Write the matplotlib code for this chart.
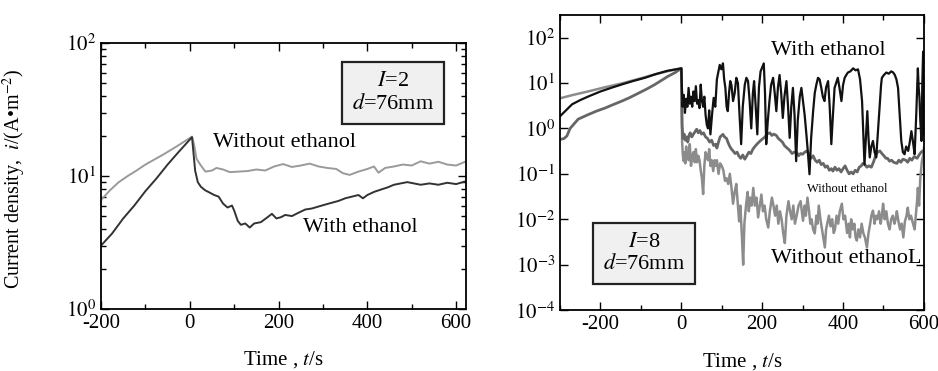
import matplotlib.pyplot as plt
from matplotlib.ticker import FixedLocator, MultipleLocator, LogLocator, NullFormatter

plt.rcParams['font.family'] = ['Liberation Serif', 'DejaVu Serif']
plt.rcParams['mathtext.fontset'] = 'stix'
plt.rcParams['axes.unicode_minus'] = False

# ---- left panel: I=2, d=76mm ----
t_wo_2 = [-200, -180, -160, -140, -120, -100, -80, -60, -40, -20, 5, 10, 15, 25, 35, 50, 60, 75, 90,
          110, 130, 150, 170, 190, 210, 230, 250, 270, 290, 310, 330, 345, 360, 380, 400, 415, 425,
          440, 460, 480, 500, 520, 540, 560, 580, 600, 620]
i_wo_2 = [6.6, 7.8, 9.0, 10.0, 11.0, 12.2, 13.3, 14.5, 15.9, 17.5, 19.8, 17.0, 13.5, 12.0, 10.8, 11.0,
          11.5, 11.2, 10.7, 10.8, 10.9, 11.2, 11.0, 11.8, 12.3, 11.7, 12.0, 12.4, 11.8, 11.5, 11.3,
          10.5, 10.2, 10.8, 11.3, 11.8, 10.6, 11.5, 11.8, 12.2, 12.0, 12.9, 12.4, 12.8, 12.2, 12.0, 12.8]

t_w_2 = [-200, -175, -150, -125, -100, -75, -50, -25, 5, 12, 18, 25, 35, 45, 55, 65, 75, 85, 95, 100,
         108, 115, 125, 135, 145, 160, 175, 185, 195, 205, 215, 230, 245, 260, 275, 290, 305, 320,
         335, 350, 365, 380, 390, 400, 415, 430, 445, 460, 475, 490, 505, 520, 540, 560, 580, 600, 620]
i_w_2 = [3.0, 3.7, 4.8, 6.0, 7.7, 9.6, 12.2, 15.2, 19.6, 11.0, 9.0, 8.3, 7.8, 7.5, 7.2, 7.0, 6.2, 5.8,
         6.0, 5.5, 4.6, 4.3, 4.4, 4.1, 4.4, 4.5, 4.9, 5.2, 4.8, 4.9, 5.1, 5.0, 5.3, 5.6, 5.7, 5.9, 6.1,
         6.3, 6.5, 6.8, 7.0, 7.2, 6.8, 7.2, 7.6, 7.9, 8.2, 8.6, 8.8, 9.0, 8.8, 8.6, 8.8, 8.6, 8.9, 8.7, 9.1]

# ---- right panel: I=8, d=76mm ----
t_w_8 = [-300, -285, -270, -250, -231, -200, -170, -147, -120, -90, -65, -35,
         0, 3, 6, 9, 12, 15, 18, 21, 24, 27, 30, 33, 36, 39, 42, 45, 48, 51, 54, 57, 60, 63, 66, 69,
         72, 76, 80, 84, 88, 92, 95, 99, 103, 106, 109, 112, 115, 118, 121, 124, 128, 132, 136, 140,
         144, 148, 152, 157, 161, 165, 169, 173, 177, 180, 184, 188, 192, 196, 200, 204, 207, 210,
         214, 218, 222, 227, 231, 235, 239, 243, 247, 251, 255, 260, 264, 268, 272, 276, 280, 284,
         288, 293, 297, 301, 305, 309, 313, 317, 321, 326, 330, 334, 338, 342, 346, 350, 354, 358,
         363, 367, 371, 375, 379, 383, 387, 391, 396, 400, 404, 408, 412, 418, 425, 431, 437, 442,
         447, 450, 453, 457, 460, 463, 466, 470, 474, 478, 482, 486, 491, 494, 496, 501, 507, 513,
         519, 524, 528, 532, 536, 540, 544, 548, 552, 556, 561, 565, 569, 573, 577, 581, 585, 587,
         589, 591, 594, 596, 598, 599, 600]
i_w_8 = [1.85, 2.5, 3.4, 4.2, 5.0, 6.5, 8.0, 9.3, 11, 13, 15.5, 18.5,
         21, 3.0, 5.5, 2.2, 4.5, 3.0, 7.8, 3.5, 5.0, 3.0, 6.5, 4.0, 8.5, 3.5, 4.2, 2.8, 9.2, 4.0, 3.0,
         5.0, 2.0, 1.2, 1.0, 2.5, 0.74, 2.0, 4.7, 3.0, 12, 18, 25, 20, 27, 12, 7.8, 3.0, 2.4, 6, 11,
         9, 4.0, 6, 13, 10, 2.0, 0.45, 3, 9.2, 13, 11, 4, 1.0, 6, 11, 3, 0.74, 8, 18, 22, 27, 6, 0.45,
         1.5, 4.0, 9, 13, 6, 2.4, 8, 15, 6, 1.7, 5, 11, 3, 0.62, 3, 7.8, 2, 0.19, 1.5, 5, 7.8, 4, 2.0,
         0.8, 0.3, 0.098, 0.6, 2.4, 6, 9.2, 13, 12, 8, 5, 4.0, 8, 11, 3, 0.45, 2, 7.8, 10, 13, 8, 4.0,
         9, 13, 15, 17, 18, 21, 19, 20, 12, 4.0, 0.8, 0.16, 0.8, 2.4, 0.6, 0.23, 0.4, 0.53, 0.3, 0.23,
         0.8, 4.0, 9, 13, 15, 17, 16, 18, 17, 15, 12, 7.8, 2, 0.53, 0.3, 0.27, 0.4, 0.32, 0.5, 0.87,
         0.5, 0.27, 2, 21, 8, 4.7, 1.5, 0.53, 10, 49, 5, 0.74]

t_wo_8a = [-300, -290, -283, -275, -255, -231, -210, -189, -170, -147, -127, -107, -85, -65, -45,
           -33, -15, 0, 2, 4, 7, 10, 13, 16, 19, 22, 26, 30, 34, 38, 42, 46, 50, 55, 60, 65, 70, 75,
           80, 85, 88, 92, 96, 100, 103, 107, 112, 116, 120, 124, 128, 133, 138, 142, 147, 152, 157,
           162, 167, 172, 177, 182, 187, 192, 197, 202, 207, 212, 219, 224, 229, 235, 240, 245, 250,
           255, 260, 265, 269, 274, 279, 285, 290, 295, 300, 305, 311, 316, 321, 326, 331, 336, 341,
           346, 351, 356, 361, 366, 371, 375, 380, 385, 390, 395, 400, 405, 410, 415, 420, 425, 430,
           435, 440, 445, 449, 454, 459, 464, 470, 475, 480, 485, 491, 496, 501, 506, 510, 515, 520,
           525, 533, 538, 543, 548, 555, 560, 565, 570, 576, 583, 588, 593, 597, 600]
i_wo_8a = [0.57, 0.6, 0.68, 1.0, 1.6, 2.0, 2.4, 2.8, 3.3, 4.0, 4.8, 5.9, 7.4, 9.3, 12, 14, 17,
           21, 1.2, 0.6, 0.75, 0.55, 0.65, 0.5, 0.7, 0.8, 0.65, 0.75, 0.85, 0.96, 0.8, 0.9, 0.75, 0.8,
           0.65, 0.6, 0.5, 0.55, 0.42, 0.45, 0.37, 0.5, 0.65, 0.7, 0.74, 0.65, 0.6, 0.48, 0.4, 0.35,
           0.32, 0.28, 0.3, 0.25, 0.22, 0.26, 0.21, 0.25, 0.3, 0.28, 0.35, 0.4, 0.45, 0.5, 0.55, 0.6,
           0.65, 0.75, 0.8, 0.7, 0.75, 0.7, 0.6, 0.55, 0.5, 0.42, 0.38, 0.35, 0.32, 0.28, 0.3, 0.3,
           0.25, 0.28, 0.27, 0.3, 0.32, 0.26, 0.22, 0.25, 0.2, 0.18, 0.2, 0.16, 0.17, 0.14, 0.15, 0.12,
           0.13, 0.115, 0.14, 0.12, 0.13, 0.11, 0.13, 0.15, 0.12, 0.1, 0.11, 0.1, 0.12, 0.11, 0.14,
           0.15, 0.17, 0.16, 0.14, 0.15, 0.14, 0.18, 0.24, 0.3, 0.32, 0.28, 0.25, 0.22, 0.22, 0.19,
           0.2, 0.18, 0.17, 0.2, 0.18, 0.21, 0.2, 0.18, 0.22, 0.2, 0.24, 0.22, 0.26, 0.3, 0.32, 0.3]

t_wo_8b = [-300, -270, -231, -190, -147, -110, -65, -30,
           0, 2, 4, 6, 8, 10, 12, 14, 16, 18, 21, 24, 27, 30, 33, 36, 39, 42, 45, 48, 51, 54, 57, 60,
           63, 66, 69, 72, 75, 79, 82, 85, 88, 92, 96, 100, 104, 108, 112, 116, 120, 124, 128, 132,
           136, 140, 143, 146, 150, 153, 156, 160, 164, 167, 170, 174, 178, 182, 186, 190, 194, 198,
           202, 206, 210, 215, 219, 224, 228, 232, 236, 240, 244, 248, 252, 256, 260, 265, 269, 273,
           277, 281, 286, 290, 295, 298, 301, 305, 308, 312, 316, 319, 322, 326, 330, 334, 337, 340,
           344, 348, 351, 355, 358, 362, 365, 369, 373, 377, 380, 384, 388, 392, 397, 401, 405, 410,
           414, 417, 420, 424, 428, 431, 434, 438, 442, 446, 450, 454, 459, 463, 467, 470, 474, 478,
           481, 485, 489, 493, 496, 499, 503, 507, 511, 515, 519, 523, 527, 530, 533, 537, 541, 545,
           549, 553, 557, 560, 564, 568, 573, 577, 580, 583, 585, 588, 591, 595, 598, 600]
i_wo_8b = [4.6, 5.4, 6.5, 8.0, 9.8, 12, 15.5, 18.5,
           21, 0.5, 0.25, 0.19, 0.3, 0.17, 0.4, 0.22, 0.3, 0.2, 0.45, 0.15, 0.25, 0.3, 0.18, 0.35,
           0.18, 0.25, 0.2, 0.12, 0.08, 0.036, 0.15, 0.3, 0.25, 0.2, 0.35, 0.15, 0.2, 0.115, 0.2, 0.15,
           0.2, 0.1, 0.17, 0.15, 0.12, 0.07, 0.08, 0.06, 0.1, 0.05, 0.022, 0.04, 0.06, 0.02, 0.009,
           0.02, 0.004, 0.001, 0.008, 0.02, 0.04, 0.015, 0.03, 0.02, 0.049, 0.02, 0.03, 0.011, 0.02,
           0.035, 0.015, 0.02, 0.01, 0.0066, 0.015, 0.03, 0.02, 0.012, 0.02, 0.008, 0.015, 0.01, 0.005,
           0.003, 0.012, 0.025, 0.015, 0.01, 0.02, 0.008, 0.013, 0.02, 0.025, 0.015, 0.0093, 0.02,
           0.012, 0.03, 0.015, 0.008, 0.01, 0.006, 0.0049, 0.012, 0.008, 0.02, 0.01, 0.006, 0.004,
           0.0024, 0.006, 0.009, 0.012, 0.007, 0.01, 0.005, 0.006, 0.012, 0.008, 0.015, 0.022, 0.01,
           0.012, 0.005, 0.008, 0.004, 0.01, 0.006, 0.008, 0.004, 0.0034, 0.006, 0.004, 0.008, 0.005,
           0.004, 0.0024, 0.005, 0.008, 0.012, 0.0155, 0.008, 0.012, 0.01, 0.015, 0.008, 0.012, 0.022,
           0.01, 0.015, 0.008, 0.006, 0.01, 0.012, 0.008, 0.01, 0.015, 0.009, 0.006, 0.008, 0.004,
           0.009, 0.012, 0.018, 0.01, 0.012, 0.008, 0.006, 0.012, 0.025, 0.049, 0.02, 0.08, 0.19,
           0.25, 0.37]

y_ticks_8 = [1e-4, 1e-3, 1e-2, 1e-1, 1e0, 1e1, 1e2]
y_labels_8 = ['$10^{-4}$', '$10^{-3}$', '$10^{-2}$', '$10^{-1}$', '$10^{0}$', '$10^{1}$', '$10^{2}$']

fig = plt.figure(figsize=(9.38, 3.71), dpi=100)
ax1 = fig.add_axes([0.1077, 0.167, 0.389, 0.717])
ax2 = fig.add_axes([0.597, 0.164, 0.388, 0.796])

box = dict(boxstyle='square,pad=0.45', fc='#f0f0f0', ec='#222222', lw=1.6)

# left
ax1.plot(t_wo_2, i_wo_2, color='#9a9a9a', lw=1.4)
ax1.plot(t_w_2, i_w_2, color='#333333', lw=1.4)
ax1.set_yscale('log')
ax1.set_xlim(-200, 622)
ax1.set_ylim(1, 100)
ax1.xaxis.set_major_locator(MultipleLocator(200))
ax1.xaxis.set_minor_locator(MultipleLocator(100))
ax1.yaxis.set_major_locator(FixedLocator([1, 10, 100]))
ax1.yaxis.set_minor_locator(LogLocator(base=10, subs=range(2, 10)))
ax1.yaxis.set_minor_formatter(NullFormatter())
ax1.set_yticklabels(['$10^{0}$', '$10^{1}$', '$10^{2}$'])
ax1.set_ylabel('Current density,  $i$/(A•m$^{-2}$)', fontsize=14.5)
ax1.yaxis.set_label_coords(-0.2, 0.49)
ax1.set_xlabel('Time , $t$/s', fontsize=15, labelpad=12)
ax1.text(0.307, 0.625, 'Without ethanol', transform=ax1.transAxes, fontsize=16, va='center')
ax1.text(0.553, 0.308, 'With ethanol', transform=ax1.transAxes, fontsize=16, va='center')
ax1.text(0.80, 0.812, '$I$=2\n$d$=76mm', transform=ax1.transAxes, fontsize=16,
         ha='center', va='center', linespacing=1.15, bbox=box)

# right
ax2.plot(t_wo_8b, i_wo_8b, color='#8c8c8c', lw=1.8)
ax2.plot(t_wo_8a, i_wo_8a, color='#666666', lw=2.0)
ax2.plot(t_w_8, i_w_8, color='#111111', lw=1.6)
ax2.set_yscale('log')
ax2.set_xlim(-300, 600)
ax2.set_ylim(1e-4, 10 ** 2.5)
ax2.xaxis.set_major_locator(MultipleLocator(200))
ax2.xaxis.set_minor_locator(MultipleLocator(100))
ax2.yaxis.set_major_locator(FixedLocator(y_ticks_8))
ax2.yaxis.set_minor_locator(FixedLocator([]))
ax2.set_yticklabels(y_labels_8)
ax2.set_xlabel('Time , $t$/s', fontsize=15, labelpad=12)
ax2.text(0.58, 0.88, 'With ethanol', transform=ax2.transAxes, fontsize=16, va='center')
ax2.text(0.68, 0.41, 'Without ethanol', transform=ax2.transAxes, fontsize=9, va='center')
ax2.text(0.58, 0.175, 'Without ethanoL', transform=ax2.transAxes, fontsize=16, va='center')
ax2.text(0.231, 0.193, '$I$=8\n$d$=76mm', transform=ax2.transAxes, fontsize=16,
         ha='center', va='center', linespacing=1.15, bbox=box)

for ax in (ax1, ax2):
    ax.tick_params(which='both', direction='in', top=True, right=True, labelsize=15)
    ax.tick_params(which='major', length=6, width=1)
    ax.tick_params(which='minor', length=3.5, width=1)
    for s in ax.spines.values():
        s.set_linewidth(1.3)

plt.savefig('out.png', dpi=100)
